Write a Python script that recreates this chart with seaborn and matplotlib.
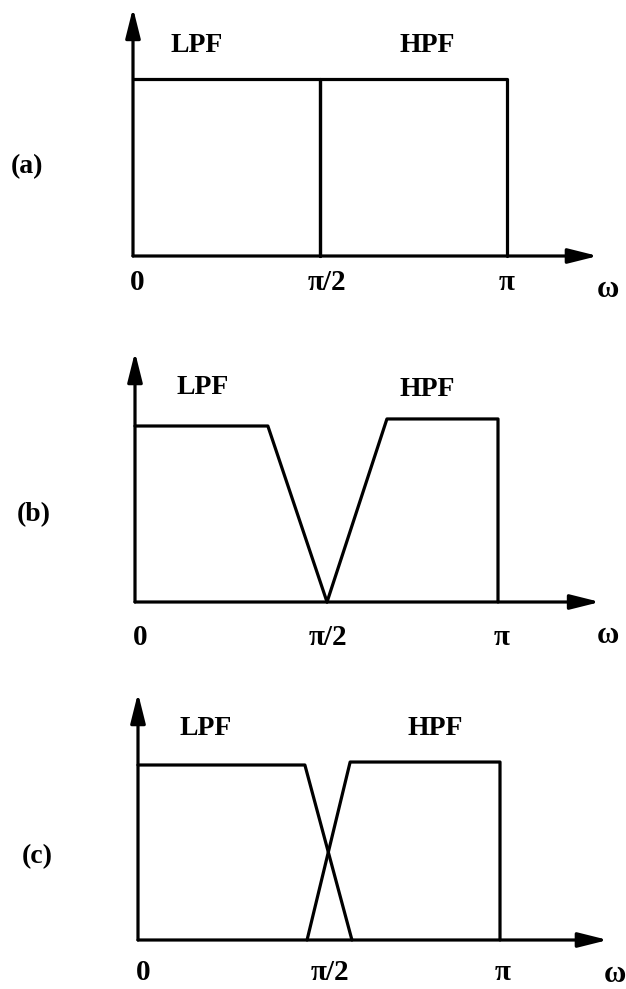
import matplotlib
matplotlib.use("Agg")
import matplotlib.pyplot as plt
import seaborn as sns

# Ideal two-band split of the frequency axis (frequency in units of pi,
# magnitude normalised to the passband level)
band_names = ["LPF", "HPF"]
panel_tags = ["(a)", "(b)", "(c)"]
tick_labels = ["0", "π/2", "π"]
axis_name = "ω"

# (a) brick-wall filters meeting at pi/2
lpf_a_w = [0.0, 0.5, 0.5]
lpf_a_h = [1.0, 1.0, 0.0]
hpf_a_w = [0.5, 0.5, 1.0, 1.0]
hpf_a_h = [0.0, 1.0, 1.0, 0.0]

# (b) transition bands that only touch at pi/2 (spectral gap)
lpf_b_w = [0.0, 0.366, 0.529]
lpf_b_h = [1.0, 1.0, 0.0]
hpf_b_w = [0.529, 0.694, 1.0, 1.0]
hpf_b_h = [0.0, 1.04, 1.04, 0.0]

# (c) overlapping transition bands crossing near pi/2
lpf_c_w = [0.0, 0.461, 0.591]
lpf_c_h = [1.0, 1.0, 0.0]
hpf_c_w = [0.467, 0.586, 1.0, 1.0]
hpf_c_h = [0.0, 1.017, 1.017, 0.0]

panels = [
    (lpf_a_w, lpf_a_h, hpf_a_w, hpf_a_h),
    (lpf_b_w, lpf_b_h, hpf_b_w, hpf_b_h),
    (lpf_c_w, lpf_c_h, hpf_c_w, hpf_c_h),
]

# ---- layout (pixels on a 626 x 989 canvas) ----
W, H = 626, 989
frames = [  # x of origin, x of pi, y of baseline, y of unit level
    (133, 507, 256, 79),
    (135, 498, 602, 426),
    (138, 500, 940, 765),
]
arrow_tips = [(1.243, 1.401), (1.281, 1.420), (1.298, 1.411)]
band_label_pos = [
    [(0.171, 1.192), (0.786, 1.192)],
    [(0.187, 1.216), (0.804, 1.205)],
    [(0.188, 1.211), (0.820, 1.211)],
]
tag_pos = [(-0.283, 0.503), (-0.278, 0.494), (-0.279, 0.474)]
tick_pos = [
    ([0.011, 0.519, 1.0], -0.147),
    ([0.014, 0.532, 1.011], -0.199),
    ([0.014, 0.530, 1.008], -0.183),
]
omega_pos = [(1.270, -0.192), (1.303, -0.188), (1.318, -0.200)]

sns.set_theme(style="white")
plt.rcParams["font.family"] = ["Liberation Serif", "DejaVu Serif"]
plt.rcParams["font.weight"] = "bold"
plt.rcParams["text.color"] = "black"

fig = plt.figure(figsize=(W / 100, H / 100), dpi=100)
fig.patch.set_facecolor("white")

LW = 2.3
FS = 20
for i, (lw_, lh_, hw_, hh_) in enumerate(panels):
    x0, xpi, yb, yt = frames[i]
    ax = fig.add_axes([x0 / W, 1 - yb / H, (xpi - x0) / W, (yb - yt) / H])
    ax.set_xlim(0, 1)
    ax.set_ylim(0, 1)
    ax.set_axis_off()

    sns.lineplot(x=lw_, y=lh_, sort=False, estimator=None, color="black",
                 linewidth=LW, ax=ax, clip_on=False)
    sns.lineplot(x=hw_, y=hh_, sort=False, estimator=None, color="black",
                 linewidth=LW, ax=ax, clip_on=False)

    # coordinate axes with arrow heads
    tx, ty = arrow_tips[i]
    style = "-|>,head_length=1.2,head_width=0.3"
    for tip in [(0, ty), (tx, 0)]:
        ax.annotate("", xy=tip, xytext=(0, 0), xycoords="data",
                    arrowprops=dict(arrowstyle=style, color="black", lw=LW,
                                    mutation_scale=15, shrinkA=0, shrinkB=0),
                    annotation_clip=False)

    for name, (bx, by) in zip(band_names, band_label_pos[i]):
        ax.text(bx, by, name, ha="center", va="center", fontsize=FS,
                fontweight="bold", color="black", clip_on=False)

    ax.text(*tag_pos[i], panel_tags[i], ha="center", va="center",
            fontsize=FS, fontweight="bold", color="black", clip_on=False)

    xs, ty_lab = tick_pos[i]
    for lab, xv in zip(tick_labels, xs):
        ax.text(xv, ty_lab, lab, ha="center", va="center", fontsize=FS + 1,
                fontweight="bold", color="black", clip_on=False)
    ax.text(*omega_pos[i], axis_name, ha="center", va="center",
            fontsize=FS + 2, fontweight="bold", color="black", clip_on=False)

fig.savefig("out.png", dpi=100, facecolor="white")
